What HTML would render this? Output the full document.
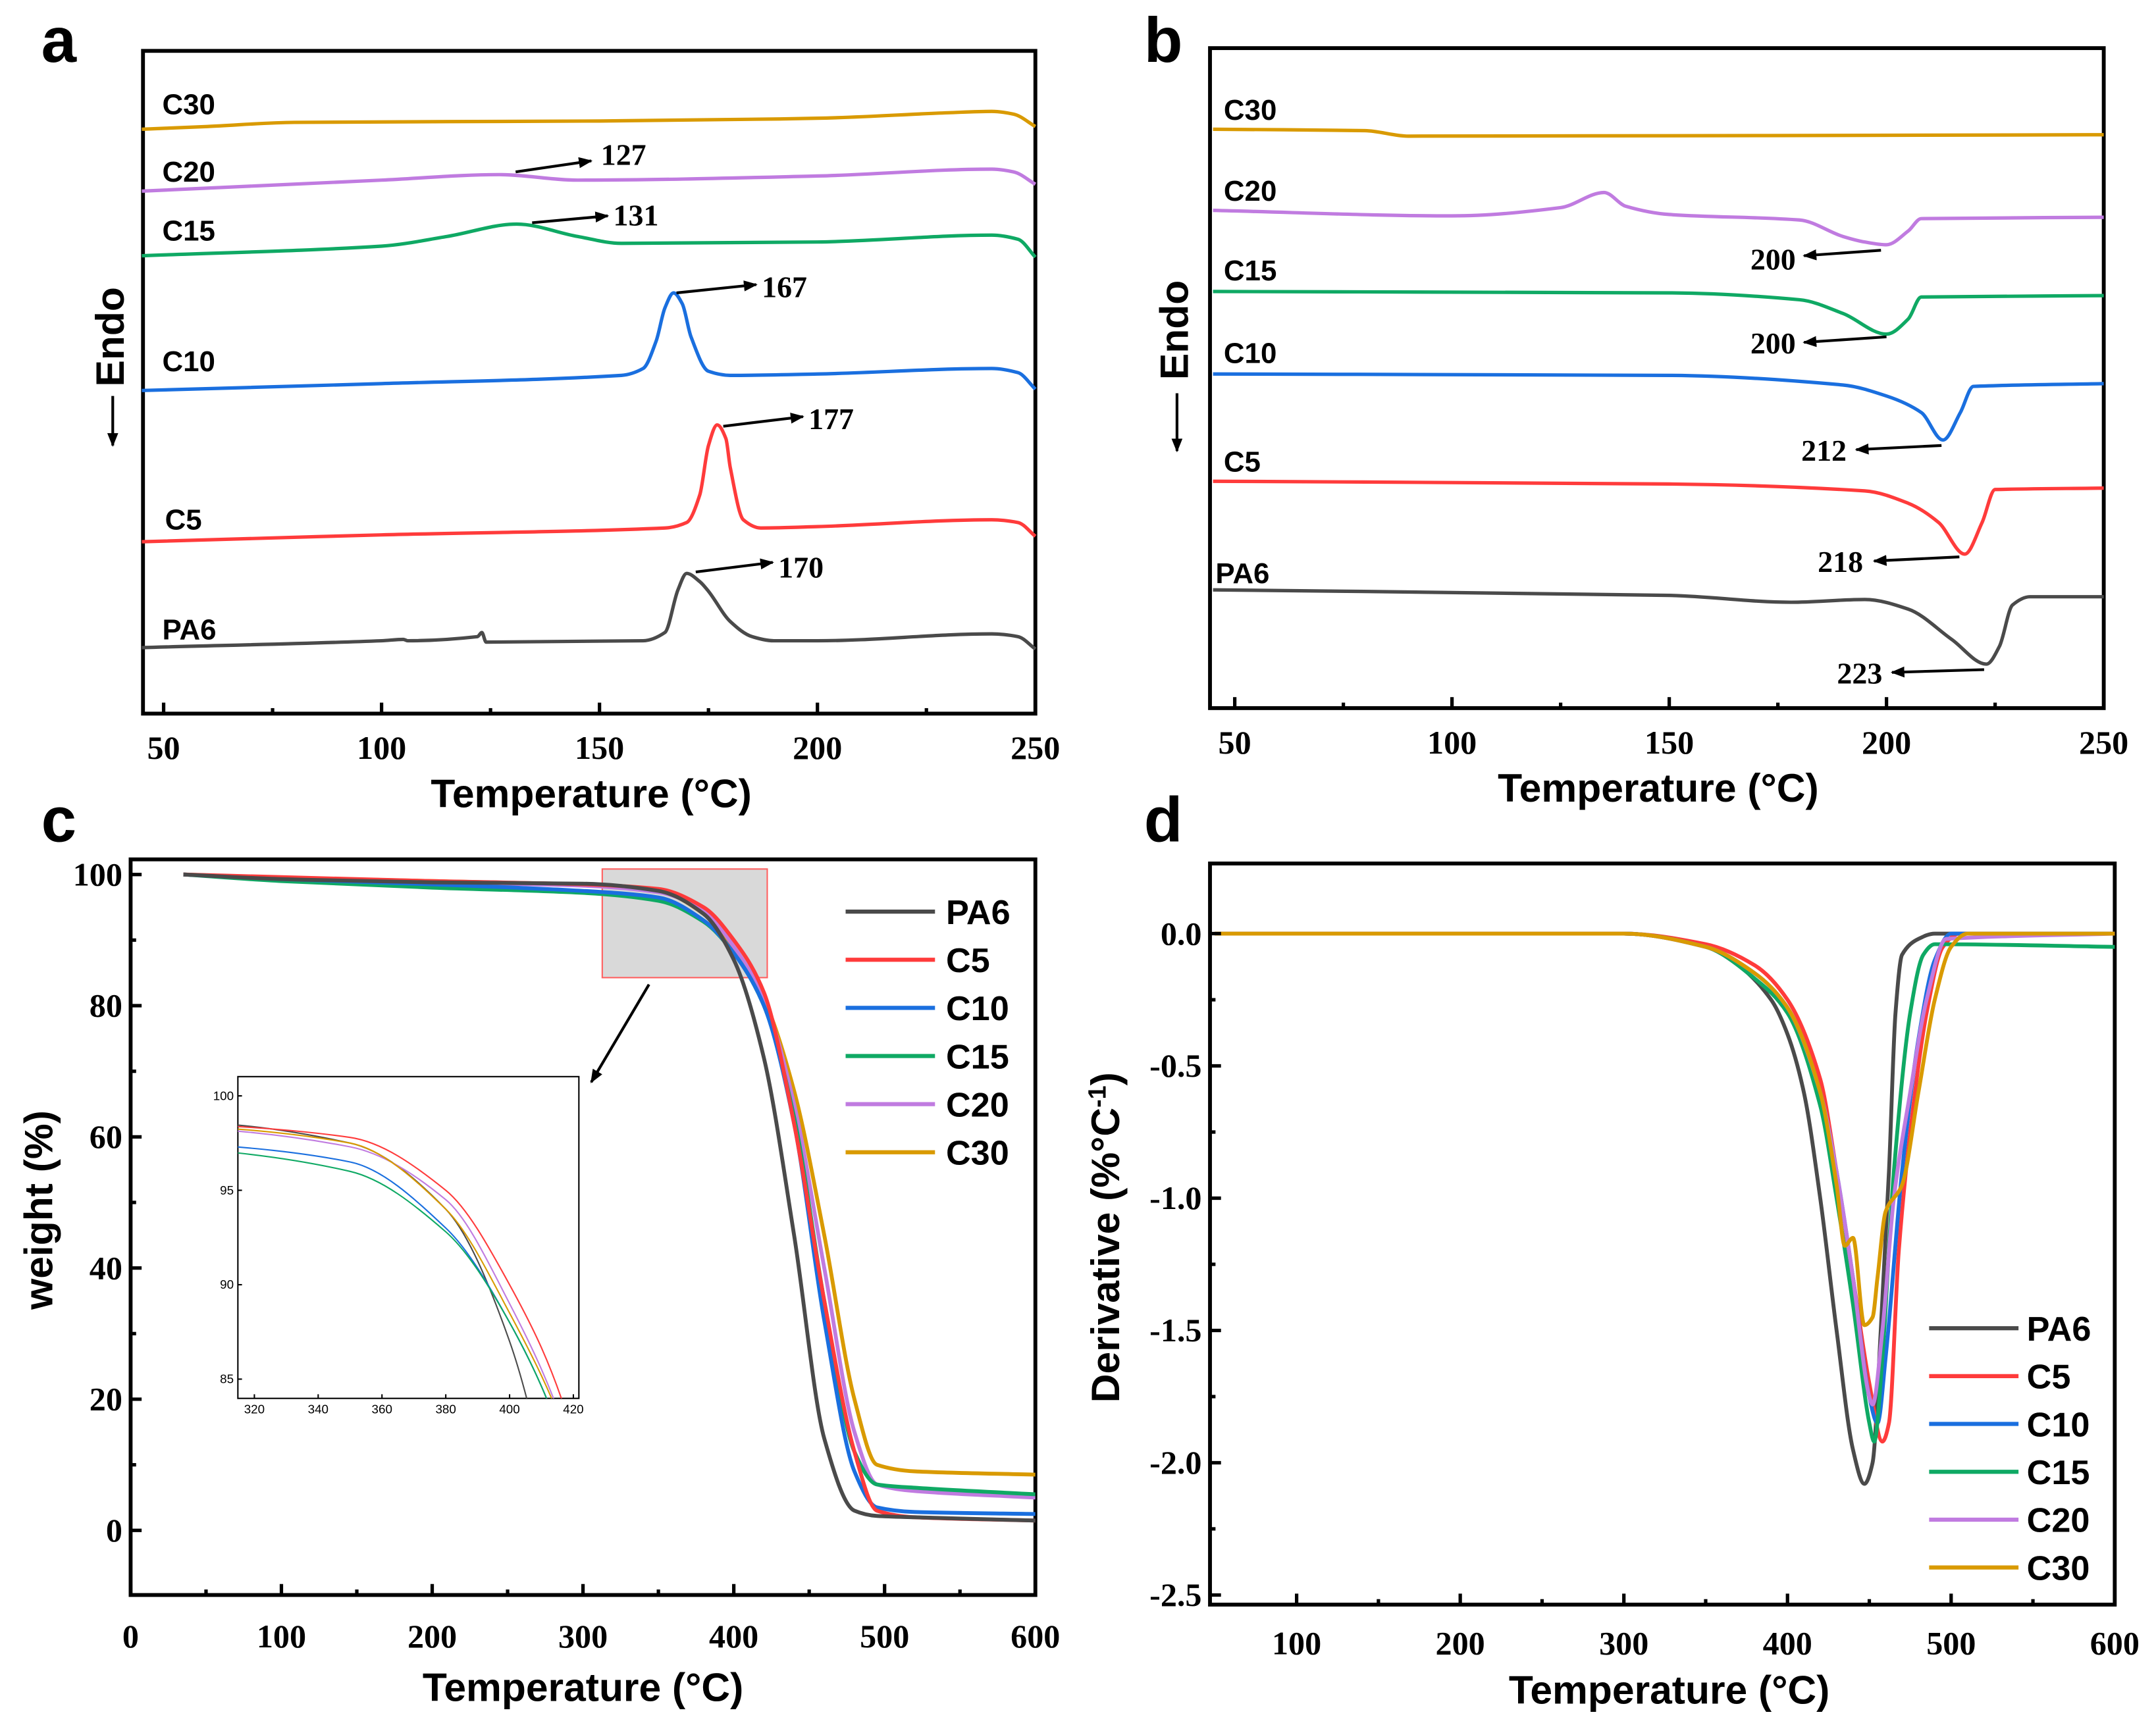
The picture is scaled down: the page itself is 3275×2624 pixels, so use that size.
<!DOCTYPE html>
<html><head><meta charset="utf-8"><style>
html,body{margin:0;padding:0;background:#fff;width:3275px;height:2624px;overflow:hidden}
svg{display:block;position:absolute;left:0;top:0}
.tk{font-family:"Liberation Serif",serif;font-weight:bold;font-size:24px}
.tt{font-family:"Liberation Sans",sans-serif;font-weight:bold;font-size:29px}
.pl{font-family:"Liberation Sans",sans-serif;font-weight:bold;font-size:46px}
.cl{font-family:"Liberation Sans",sans-serif;font-weight:bold;font-size:21px}
.an{font-family:"Liberation Serif",serif;font-weight:bold;font-size:22px}
.lg{font-family:"Liberation Sans",sans-serif;font-weight:bold;font-size:25px}
.it{font-family:"Liberation Sans",sans-serif;font-size:9px}
</style></head><body>
<svg id="fig" width="3275" height="2624" viewBox="0 0 1568 1256" preserveAspectRatio="none" xmlns="http://www.w3.org/2000/svg">
<defs><marker id="ah" markerWidth="10" markerHeight="8" refX="9" refY="4" orient="auto" markerUnits="userSpaceOnUse"><path d="M0,0 L10,4 L0,8 z" fill="#000"/></marker></defs>
</svg>
<script>
const COL={PA6:'#4a4a4a',C5:'#ff3b3b',C10:'#1a6fdf',C15:'#0fa964',C20:'#c07be0',C30:'#d99a00'};
const series=['PA6','C5','C10','C15','C20','C30'];
// Panel a (DSC cooling) temperatures and heat flow (a.u.)
const aT={C30:[45,60,80,150,200,230,240,245,250],C20:[45,100,127,145,200,240,245,250],C15:[45,100,115,131,145,155,200,240,246,250],C10:[45,100,155,160,163,165,167,169,171,175,180,200,240,246,250],C5:[45,100,165,170,173,175,177,179,180,183,187,200,240,246,250],PA6:[45,100,105,106,122,123,124,160,165,168,170,173,175,180,185,190,200,240,246,250]};
const aV={C30:[425,427,430,431,433,437,438,436,427],C20:[380,388,392,388,391,396,394,385],C15:[333,340,347,356,347,342,343,348,345,332],C10:[235,240,246,251,271,295,306,298,274,249,246,247,251,248,236],C5:[125,130,135,139,159,195,210,200,179,141,135,136,141,139,129],PA6:[48,53,54,53,56,59,52,53,59,90,102,96,89,67,56,53,53,58,56,47]};
// Panel b (DSC heating)
const bT={C30:[45,80,90,250],C20:[45,100,125,135,140,150,180,190,195,200,205,208,250],C15:[45,150,180,190,200,205,208,250],C10:[45,150,190,200,208,213,217,220,250],C5:[45,150,195,205,212,218,222,225,250],PA6:[45,150,178,195,205,215,223,226,229,233,250]};
const bV={C30:[421,420,416,417],C20:[362,358,364,375,365,359,355,343,339,337,347,356,357],C15:[303,302,297,287,272,283,299,300],C10:[243,242,235,227,215,195,215,234,236],C5:[165,163,158,149,135,112,135,159,160],PA6:[86,82,77,79,72,50,32,45,75,81,81]};
// Panel c (TGA)
const cT=[35,100,200,300,350,380,400,420,440,460,480,495,520,600];
const cV={PA6:[100,99.3,98.8,98.6,97.5,94,87,72,45,14,3,2.2,2,1.5],C5:[100,99.6,99,98.5,97.8,95,90,82,62,35,12,3,2,1.5],C10:[100,99.3,98.5,97.5,96.5,93,88,80,62,32,9,3.5,2.8,2.5],C15:[100,99,98,97.2,96,92.8,88,80,63,35,12,7,6.5,5.5],C20:[100,99.4,98.8,98.3,97.3,94.5,89,81,65,40,15,7,6,5],C30:[100,99.5,99,98.4,97.5,94,88.5,81,67,45,20,10,9,8.5]};
// Panel d (DTG)
const dT={PA6:[50,300,350,370,390,400,410,420,430,440,447,452,457,462,466,470,480,490,600],C5:[50,300,350,380,400,420,430,440,450,458,462,468,475,485,495,505,600],C10:[50,300,350,380,400,420,430,440,450,455,460,470,480,490,500,600],C15:[50,300,350,380,400,420,430,440,450,453,458,465,475,483,490,600],C20:[50,300,350,380,400,420,430,440,450,452,458,465,475,485,497,600],C30:[50,300,350,380,400,420,430,435,440,447,452,455,460,470,480,490,500,510,600]};
const dV={PA6:[0,0,-0.05,-0.12,-0.25,-0.38,-0.6,-1.0,-1.5,-1.95,-2.08,-2.0,-1.5,-0.9,-0.3,-0.08,-0.02,0,0],C5:[0,0,-0.04,-0.12,-0.25,-0.55,-0.9,-1.3,-1.7,-1.92,-1.85,-1.2,-0.75,-0.3,-0.05,0,0],C10:[0,0,-0.05,-0.15,-0.28,-0.6,-0.9,-1.3,-1.75,-1.85,-1.6,-0.9,-0.4,-0.1,0,0],C15:[0,0,-0.05,-0.17,-0.3,-0.65,-1.0,-1.4,-1.85,-1.92,-1.6,-0.9,-0.3,-0.08,-0.04,-0.05],C20:[0,0,-0.05,-0.15,-0.28,-0.6,-0.9,-1.3,-1.75,-1.78,-1.5,-1.0,-0.6,-0.25,-0.02,0],C30:[0,0,-0.05,-0.15,-0.28,-0.6,-0.95,-1.18,-1.15,-1.48,-1.45,-1.3,-1.05,-0.95,-0.6,-0.25,-0.05,0,0]};

const svg=document.getElementById('fig');const NS='http://www.w3.org/2000/svg';
function el(tag,at,parent){const e=document.createElementNS(NS,tag);for(const k in at)e.setAttribute(k,at[k]);(parent||svg).appendChild(e);return e;}
function txt(s,x,y,cls,anchor,parent){const t=el('text',{x:x,y:y,class:cls,'text-anchor':anchor||'start'},parent);t.textContent=s;return t;}
function lin(d0,d1,r0,r1){return v=>r0+(v-d0)/(d1-d0)*(r1-r0);}
function path(xs,ys,sx,sy){
 const P=xs.map((x,i)=>[sx(x),sy(ys[i])]);const n=P.length;
 const sec=[];for(let i=0;i<n-1;i++)sec.push((P[i+1][1]-P[i][1])/(P[i+1][0]-P[i][0]));
 const m=P.map((p,i)=>{if(i===0)return sec[0];if(i===n-1)return sec[n-2];const a=sec[i-1],b=sec[i];if(a*b<=0)return 0;return 2*a*b/(a+b);});
 let d='M'+P[0][0].toFixed(2)+','+P[0][1].toFixed(2);
 for(let i=0;i<n-1;i++){const dx=(P[i+1][0]-P[i][0])/3;
  d+='C'+(P[i][0]+dx).toFixed(2)+','+(P[i][1]+m[i]*dx).toFixed(2)+' '+(P[i+1][0]-dx).toFixed(2)+','+(P[i+1][1]-m[i+1]*dx).toFixed(2)+' '+P[i+1][0].toFixed(2)+','+P[i+1][1].toFixed(2);}
 return d;}
function frame(x0,y0,x1,y1,name){const r=el('rect',{x:x0,y:y0,width:x1-x0,height:y1-y0,fill:'none',stroke:'#000','stroke-width':2.8});}
function xticks(sx,y,majors,minors,ly,name){const g=el('g',{});
 majors.forEach(v=>{el('line',{x1:sx(v),x2:sx(v),y1:y,y2:y-8,stroke:'#000','stroke-width':2.5},g);txt(String(v),sx(v),ly,'tk','middle',g);});
 minors.forEach(v=>el('line',{x1:sx(v),x2:sx(v),y1:y,y2:y-4,stroke:'#000','stroke-width':2.5},g));}
function yticks(sy,x,majors,minors,labels,name){const g=el('g',{});
 majors.forEach((v,i)=>{el('line',{x1:x,x2:x+8,y1:sy(v),y2:sy(v),stroke:'#000','stroke-width':2.5},g);txt(labels[i],x-6,sy(v)+8,'tk','end',g);});
 minors.forEach(v=>el('line',{x1:x,x2:x+4,y1:sy(v),y2:sy(v),stroke:'#000','stroke-width':2.5},g));}
function curve(d,color,w,name,parent){const p=el('path',{d:d,fill:'none',stroke:color,'stroke-width':w,'stroke-linejoin':'round'},parent);return p;}
function arrow(x1,y1,x2,y2){const a=el('line',{x1,y1,x2,y2,stroke:'#000','stroke-width':2,'marker-end':'url(#ah)'});}

// ===== Panel a =====
{const sx=lin(50,250,119,753),sy=lin(0,482,519,37);
 frame(104,37,753,519,'panel-a-frame');
 series.forEach(s=>curve(path(aT[s],aV[s],sx,sy),COL[s],2.5,'panel-a-curve-'+s));
 xticks(sx,519,[50,100,150,200,250],[75,125,175,225],552,'panel-a-x-axis');
 txt('a',30,45,'pl','start');
 txt('Temperature (°C)',430,587,'tt','middle');
 [['C30',76],['C20',125],['C15',168],['C10',263],['C5',378],['PA6',458]].forEach(([s,y])=>{const t=txt(s,s==='C5'?120:118,y+7,'cl');});
 [['127',375,125,430,117,437,120],['131',387,162,442,157,446,164],['167',492,213,550,207,554,216],['177',526,310,584,303,588,312],['170',506,416,562,409,566,420]].forEach(a=>{arrow(a[1],a[2],a[3],a[4]);txt(a[0],a[5],a[6],'an');});
 const e=txt('Endo',0,0,'tt','middle');e.setAttribute('transform','translate(90,245) rotate(-90)');
 el('line',{x1:82,y1:288,x2:82,y2:324,stroke:'#000','stroke-width':2,'marker-end':'url(#ah)'});}

// ===== Panel b =====
{const sx=lin(50,250,898,1530),sy=lin(0,480,515,35);
 frame(880,35,1530,515,'panel-b-frame');
 series.forEach(s=>curve(path(bT[s],bV[s],sx,sy),COL[s],2.5,'panel-b-curve-'+s));
 xticks(sx,515,[50,100,150,200,250],[75,125,175,225],548,'panel-b-x-axis');
 txt('b',832,45,'pl','start');
 txt('Temperature (°C)',1206,583,'tt','middle');
 [['C30',80],['C20',139],['C15',197],['C10',257],['C5',336],['PA6',417]].forEach(([s,y])=>{const t=txt(s,s==='PA6'?884:890,y+7,'cl');});
 [['200',1368,182,1312,186,1273,196],['200',1372,245,1312,249,1273,257],['212',1412,324,1350,327,1310,335],['218',1425,405,1363,408,1322,416],['223',1443,487,1376,489,1336,497]].forEach(a=>{arrow(a[1],a[2],a[3],a[4]);txt(a[0],a[5],a[6],'an');});
 const e=txt('Endo',0,0,'tt','middle');e.setAttribute('transform','translate(864,240) rotate(-90)');
 el('line',{x1:856,y1:286,x2:856,y2:328,stroke:'#000','stroke-width':2,'marker-end':'url(#ah)'});}

// ===== Panel c =====
{const sx=lin(0,600,95,753),sy=lin(0,100,1113,636);
 el('rect',{x:438,y:632,width:120,height:79,fill:'#d9d9d9',stroke:'#ff6060','stroke-width':1});
 frame(95,625,753,1160,'panel-c-frame');
 const clip=el('clipPath',{id:'cc'});el('rect',{x:95,y:625,width:658,height:535},clip);
 const g=el('g',{'clip-path':'url(#cc)'});
 series.slice().reverse().forEach(s=>curve(path(cT,cV[s],sx,sy),COL[s],2.8,'panel-c-curve-'+s,g));
 xticks(sx,1160,[0,100,200,300,400,500,600],[50,150,250,350,450,550],1198,'panel-c-x-axis');
 yticks(sy,95,[0,20,40,60,80,100],[10,30,50,70,90],['0','20','40','60','80','100'],'panel-c-y-axis');
 txt('c',30,612,'pl','start');
 txt('Temperature (°C)',424,1237,'tt','middle');
 const yt=txt('weight (%)',0,0,'tt','middle');yt.setAttribute('transform','translate(38,880) rotate(-90)');
 arrow(472,716,430,787);
 series.forEach((s,i)=>{const y=663+i*35;const l=el('line',{x1:615,x2:680,y1:y,y2:y,stroke:COL[s],'stroke-width':3});txt(s,688,y+9,'lg');});
 // inset
 const ix=lin(320,420,185,417),iy=lin(85,100,1003,797);
 el('rect',{x:173,y:783,width:248,height:234,fill:'#fff',stroke:'#000','stroke-width':1});
 const c2=el('clipPath',{id:'ic'});el('rect',{x:173,y:783,width:248,height:234},c2);
 const g2=el('g',{'clip-path':'url(#ic)'});
 series.forEach(s=>curve(path(cT,cV[s],ix,iy),COL[s],1,'inset-curve-'+s,g2));
 [320,340,360,380,400,420].forEach(v=>{el('line',{x1:ix(v),x2:ix(v),y1:1017,y2:1014,stroke:'#000'});txt(String(v),ix(v),1028,'it','middle');});
 [85,90,95,100].forEach(v=>{el('line',{x1:173,x2:176,y1:iy(v),y2:iy(v),stroke:'#000'});txt(String(v),170,iy(v)+3,'it','end');});}

// ===== Panel d =====
{const sx=lin(100,600,943,1538),sy=lin(0,-2.5,679,1160);
 frame(880,628,1538,1167,'panel-d-frame');
 series.forEach(s=>curve(path(dT[s],dV[s],sx,sy),COL[s],2.8,'panel-d-curve-'+s));
 xticks(sx,1167,[100,200,300,400,500,600],[150,250,350,450,550],1203,'panel-d-x-axis');
 yticks(sy,880,[0,-0.5,-1,-1.5,-2,-2.5],[-0.25,-0.75,-1.25,-1.75,-2.25],['0.0','-0.5','-1.0','-1.5','-2.0','-2.5'],'panel-d-y-axis');
 txt('d',832,612,'pl','start');
 txt('Temperature (°C)',1214,1239,'tt','middle');
 const yt=el('text',{class:'tt','text-anchor':'middle',transform:'translate(814,900) rotate(-90)'});
 yt.appendChild(document.createTextNode('Derivative (%°C'));const sp=el('tspan',{dy:-10,'font-size':18},yt);sp.textContent='-1';const sp2=el('tspan',{dy:10},yt);sp2.textContent=')';
 series.forEach((s,i)=>{const y=966+i*34.8;const l=el('line',{x1:1403,x2:1468,y1:y,y2:y,stroke:COL[s],'stroke-width':3});txt(s,1474,y+9,'lg');});}
</script>
</body></html>
